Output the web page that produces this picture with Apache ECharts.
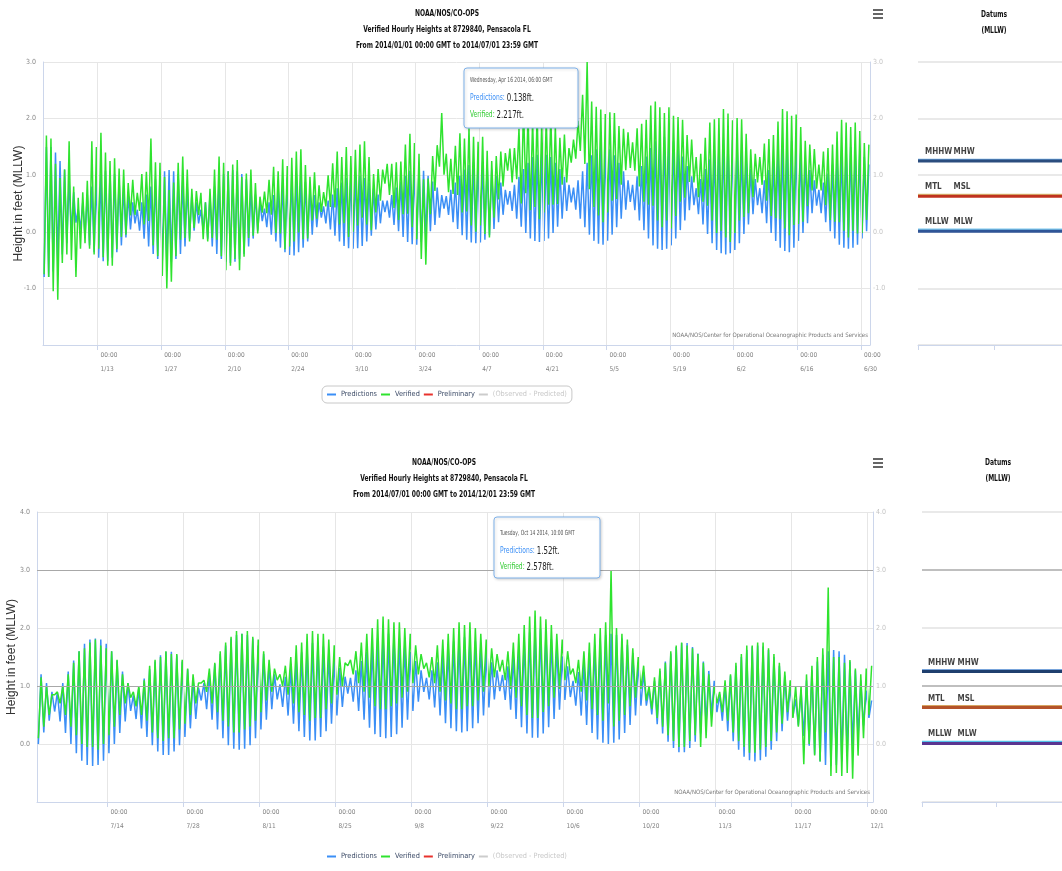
<!DOCTYPE html>
<html><head><meta charset="utf-8">
<script src="https://cdn.jsdelivr.net/npm/echarts@6/dist/echarts.min.js"></script>
<style>html,body{margin:0;padding:0;background:#fff}#c{width:1062px;height:871px}</style>
</head><body><div id="c"></div>
<script>
// ---------------- DATA ----------------
const topTickDates = ['2014-01-13','2014-01-27','2014-02-10','2014-02-24','2014-03-10','2014-03-24','2014-04-07','2014-04-21','2014-05-05','2014-05-19','2014-06-02','2014-06-16','2014-06-30'];
const botTickDates = ['2014-07-14','2014-07-28','2014-08-11','2014-08-25','2014-09-08','2014-09-22','2014-10-06','2014-10-20','2014-11-03','2014-11-17','2014-12-01'];

// daily high / low water (ft, MLLW), Jan 1 .. Jul 1 2014
const topPredHigh = [1.5,1.5,1.4,1.25,1.1,0.9,0.7,
0.4,0.52,0.66,0.8,0.92,1.02,1.08,1.08,1.02,0.92,0.8,0.66,0.52,
0.39,0.52,0.66,0.8,0.93,1.02,1.07,1.09,1.07,1.02,0.93,0.8,0.66,0.52,
0.39,0.52,0.66,0.8,0.93,1.02,1.07,1.09,1.07,1.02,0.93,0.8,0.66,0.52,
0.41,0.52,0.65,0.77,0.88,0.96,1.01,1.02,0.96,0.88,0.77,0.65,0.52,
0.45,0.55,0.66,0.77,0.87,0.95,0.99,1.0,0.99,0.95,0.87,0.77,0.66,0.55,
0.55,0.65,0.78,0.89,0.99,1.08,1.12,1.13,1.08,0.99,0.89,0.78,0.65,
0.63,0.74,0.87,0.99,1.1,1.18,1.23,1.24,1.23,1.18,1.1,0.99,0.87,0.74,
0.72,0.83,0.97,1.11,1.22,1.32,1.36,1.38,1.36,1.32,1.22,1.11,0.97,0.83,
0.78,0.91,1.07,1.22,1.35,1.46,1.51,1.53,1.46,1.35,1.22,1.07,0.91,
0.83,0.98,1.16,1.33,1.48,1.6,1.66,1.68,1.66,1.6,1.48,1.33,1.16,0.98,
0.77,0.93,1.11,1.28,1.44,1.56,1.62,1.64,1.62,1.56,1.44,1.28,1.11,0.93,
0.77,0.91,1.09,1.26,1.4,1.52,1.58,1.6,1.52,1.4,1.26,1.09,0.91,
0.74,0.87,1.03,1.19,1.32,1.43,1.48,1.5,1.48,1.43,1.32,1.19];
const topPredLow = [-0.8,-0.8,-0.7,-0.55,-0.4,-0.2,0.0,
0.16,0.04,-0.1,-0.24,-0.36,-0.46,-0.52,-0.52,-0.46,-0.36,-0.24,-0.1,0.04,
0.15,0.02,-0.12,-0.26,-0.39,-0.48,-0.53,-0.55,-0.53,-0.48,-0.39,-0.26,-0.12,0.02,
0.15,0.02,-0.12,-0.26,-0.39,-0.48,-0.53,-0.55,-0.53,-0.48,-0.39,-0.26,-0.12,0.02,
0.19,0.08,-0.05,-0.17,-0.28,-0.36,-0.41,-0.42,-0.36,-0.28,-0.17,-0.05,0.08,
0.25,0.15,0.04,-0.07,-0.17,-0.25,-0.29,-0.3,-0.29,-0.25,-0.17,-0.07,0.04,0.15,
0.35,0.25,0.12,0.01,-0.09,-0.18,-0.22,-0.23,-0.18,-0.09,0.01,0.12,0.25,
0.41,0.3,0.17,0.05,-0.06,-0.14,-0.19,-0.2,-0.19,-0.14,-0.06,0.05,0.17,0.3,
0.48,0.37,0.23,0.09,-0.02,-0.12,-0.16,-0.18,-0.16,-0.12,-0.02,0.09,0.23,0.37,
0.52,0.39,0.23,0.08,-0.05,-0.16,-0.21,-0.23,-0.16,-0.05,0.08,0.23,0.39,
0.53,0.38,0.2,0.03,-0.12,-0.24,-0.3,-0.32,-0.3,-0.24,-0.12,0.03,0.2,0.38,
0.47,0.31,0.13,-0.04,-0.2,-0.32,-0.38,-0.4,-0.38,-0.32,-0.2,-0.04,0.13,0.31,
0.47,0.33,0.15,-0.02,-0.16,-0.28,-0.34,-0.36,-0.28,-0.16,-0.02,0.15,0.33,
0.46,0.33,0.17,0.01,-0.12,-0.23,-0.28,-0.3,-0.28,-0.23,-0.12,0.01];
const topVerHigh = [1.7,1.65,1.2,0.95,1.1,1.6,0.8,
0.6,0.7,0.9,1.6,1.5,1.75,1.4,1.25,1.3,1.12,1.1,0.86,0.92,
0.69,1.02,1.06,1.65,1.23,1.22,0.97,0.74,0.87,1.22,1.33,1.1,0.76,0.72,
0.69,0.52,0.76,1.1,1.33,1.22,1.07,1.19,1.27,0.97,1.03,1.1,0.86,0.62,
0.71,0.92,1.15,1.07,1.28,1.16,1.31,1.42,1.46,1.18,0.97,1.05,0.82,
0.7,1.0,1.21,1.42,1.32,1.5,1.34,1.45,1.54,1.6,1.32,1.02,1.11,1.1,
1.2,1.2,1.23,1.24,1.54,1.73,1.57,1.38,0.93,0.94,1.34,1.53,2.1,
1.38,1.29,1.52,1.74,1.65,1.83,1.68,1.59,1.68,1.43,1.25,1.34,1.42,1.39,
1.47,1.48,1.82,2.2,2.07,1.97,2.11,1.93,2.01,2.07,1.87,1.66,1.72,1.48,
1.63,1.96,2.42,3.0,2.3,2.21,2.16,2.08,2.11,2.1,1.87,1.82,1.76,
1.58,1.83,1.91,1.98,2.23,2.3,2.2,2.1,2.2,2.05,2.03,1.98,1.71,1.63,
1.32,1.38,1.66,1.93,1.99,2.01,2.17,2.09,1.97,2.01,1.99,1.73,1.46,1.38,
1.32,1.56,1.64,1.71,1.95,2.17,2.13,2.05,2.07,1.85,1.61,1.54,1.46,
1.19,1.42,1.48,1.54,1.77,1.98,1.93,1.85,1.93,1.78,1.57,1.54];
const topVerLow = [-0.75,-0.8,-1.05,-1.2,-0.55,-0.4,-0.5,
-0.8,-0.3,-0.2,-0.3,-0.4,-0.3,-0.45,-0.6,-0.6,-0.31,-0.09,-0.05,0.29,
0.3,0.37,0.13,0.19,-0.24,-0.43,-0.78,-1.0,-0.88,-0.43,-0.14,-0.11,-0.17,0.07,
0.3,-0.13,-0.17,-0.11,-0.14,-0.43,-0.68,-0.6,-0.48,-0.68,-0.44,-0.11,-0.07,-0.03,
0.34,0.33,0.3,-0.02,-0.03,-0.31,-0.26,-0.17,-0.01,-0.13,-0.12,0.2,0.23,
0.35,0.45,0.44,0.43,0.13,0.15,-0.09,0.0,0.11,0.25,0.13,0.03,0.34,0.55,
0.85,0.65,0.42,0.21,0.31,0.32,0.08,-0.13,-0.48,-0.58,0.31,0.72,1.15,
1.01,0.7,0.67,0.65,0.34,0.36,0.11,0.0,0.11,-0.04,-0.1,0.25,0.57,0.8,
1.08,0.87,0.93,0.5,0.68,0.38,0.44,0.22,0.34,0.48,0.48,0.49,0.83,0.87,
1.22,1.29,1.43,1.2,0.75,0.44,0.29,0.17,0.34,0.55,0.58,0.83,1.09,
1.13,1.08,0.8,0.53,0.48,0.46,0.2,0.08,0.2,0.06,0.28,0.53,0.6,0.88,
0.87,0.61,0.53,0.46,0.2,-0.02,0.02,-0.1,-0.18,-0.02,0.2,0.26,0.33,0.61,
0.87,0.83,0.55,0.28,0.24,0.22,0.06,-0.06,0.12,0.14,0.18,0.45,0.73,
0.76,0.73,0.47,0.21,0.18,0.17,0.02,-0.1,0.02,-0.03,-0.02,0.21];

// daily high / low water (ft, MLLW), Jul 1 .. Dec 1 2014
const botPredHigh = [1.2,1.05,0.9,
0.89,1.05,1.25,1.44,1.6,1.73,1.8,1.82,1.8,1.73,1.6,1.44,1.25,1.05,
0.84,0.97,1.13,1.29,1.42,1.53,1.59,1.59,1.53,1.42,1.29,1.13,0.97,
1.05,1.2,1.38,1.55,1.7,1.82,1.88,1.9,1.88,1.82,1.7,1.55,1.38,1.2,
1.03,1.16,1.31,1.45,1.58,1.68,1.74,1.74,1.68,1.58,1.45,1.31,1.16,
1.14,1.27,1.43,1.59,1.72,1.83,1.88,1.9,1.88,1.83,1.72,1.59,1.43,1.27,
1.14,1.27,1.41,1.55,1.68,1.77,1.82,1.84,1.82,1.77,1.68,1.55,1.41,1.27,
1.19,1.34,1.51,1.67,1.81,1.92,1.99,1.99,1.92,1.81,1.67,1.51,1.34,
1.09,1.24,1.41,1.57,1.71,1.82,1.88,1.9,1.88,1.82,1.71,1.57,1.41,1.24,
0.94,1.09,1.26,1.42,1.56,1.67,1.74,1.74,1.67,1.56,1.42,1.26,1.09,
0.85,1.0,1.18,1.35,1.5,1.62,1.68,1.7,1.68,1.62,1.5,1.35,1.18,1.0,
0.77,0.92,1.1,1.27,1.42,1.54,1.6,1.62,1.6,1.54,1.42,1.27,1.1,0.92,
0.75];
const botPredLow = [0.0,0.2,0.4,
0.56,0.39,0.19,0.0,-0.16,-0.29,-0.36,-0.38,-0.36,-0.29,-0.16,0.0,0.19,0.39,
0.57,0.43,0.27,0.12,-0.02,-0.13,-0.19,-0.19,-0.13,-0.02,0.12,0.27,0.43,
0.75,0.6,0.42,0.25,0.1,-0.02,-0.08,-0.1,-0.08,-0.02,0.1,0.25,0.42,0.6,
0.77,0.64,0.49,0.35,0.22,0.12,0.06,0.06,0.12,0.22,0.35,0.49,0.64,
0.87,0.73,0.57,0.42,0.28,0.17,0.12,0.1,0.12,0.17,0.28,0.42,0.57,0.73,
0.9,0.77,0.63,0.49,0.36,0.27,0.22,0.2,0.22,0.27,0.36,0.49,0.63,0.77,
0.91,0.76,0.59,0.43,0.29,0.18,0.11,0.11,0.18,0.29,0.43,0.59,0.76,
0.81,0.66,0.49,0.33,0.19,0.08,0.02,0.0,0.02,0.08,0.19,0.33,0.49,0.66,
0.66,0.51,0.34,0.18,0.04,-0.07,-0.14,-0.14,-0.07,0.04,0.18,0.34,0.51,
0.55,0.4,0.22,0.05,-0.1,-0.22,-0.28,-0.3,-0.28,-0.22,-0.1,0.05,0.22,0.4,
0.47,0.32,0.14,-0.03,-0.18,-0.3,-0.36,-0.38,-0.36,-0.3,-0.18,-0.03,0.14,0.32,
0.45];
const botVerHigh = [1.15,1.0,0.85,
0.9,1.0,1.2,1.4,1.6,1.65,1.75,1.8,1.7,1.65,1.6,1.45,1.2,1.05,
0.9,1.0,1.1,1.35,1.45,1.5,1.6,1.55,1.55,1.45,1.3,1.2,1.05,
1.1,1.3,1.4,1.6,1.75,1.85,1.95,1.9,1.95,1.85,1.8,1.6,1.45,1.3,
1.2,1.35,1.5,1.7,1.75,1.9,1.95,1.9,1.9,1.8,1.7,1.5,1.4,
1.45,1.6,1.75,1.9,2.0,2.15,2.2,2.15,2.1,2.1,2.0,1.9,1.7,1.55,
1.4,1.5,1.7,1.8,1.9,2.0,2.1,2.05,2.1,2.0,1.9,1.8,1.65,1.55,
1.45,1.6,1.75,1.9,2.05,2.2,2.3,2.2,2.15,2.05,1.9,1.8,1.6,
1.3,1.45,1.6,1.75,1.9,2.0,2.1,3.0,2.0,1.9,1.8,1.65,1.5,1.35,
1.0,1.15,1.3,1.4,1.6,1.7,1.75,1.7,1.65,1.55,1.4,1.2,1.0,
0.9,1.1,1.2,1.4,1.55,1.7,1.7,1.75,1.75,1.65,1.55,1.4,1.25,1.1,
1.0,1.0,1.2,1.35,1.5,1.65,2.7,1.5,1.5,1.4,1.45,1.3,1.2,1.3,
1.35];
const botVerLow = [0.1,0.3,0.5,
0.85,0.7,0.5,0.3,0.15,0.0,-0.05,-0.05,-0.1,0.0,0.15,0.3,0.5,0.7,
0.8,0.65,0.5,0.4,0.2,0.1,0.05,0.1,0.1,0.25,0.35,0.5,0.7,
1.05,0.9,0.7,0.55,0.4,0.3,0.2,0.2,0.25,0.3,0.4,0.55,0.75,0.9,
1.1,1.0,0.85,0.7,0.55,0.5,0.4,0.45,0.45,0.6,0.7,0.85,1.0,
1.35,1.2,1.05,0.9,0.8,0.65,0.6,0.6,0.65,0.7,0.8,0.9,1.05,1.2,
1.3,1.15,1.05,0.9,0.75,0.7,0.6,0.6,0.65,0.65,0.75,0.9,1.0,1.15,
1.25,1.1,0.95,0.8,0.65,0.5,0.45,0.45,0.55,0.65,0.8,0.95,1.1,
1.2,1.05,0.9,0.75,0.6,0.5,0.4,0.7,0.3,0.4,0.5,0.65,0.8,0.95,
0.75,0.6,0.45,0.3,0.15,0.05,-0.05,-0.05,0.05,0.15,-0.05,0.1,0.3,
0.7,0.55,0.4,0.2,0.05,-0.05,-0.15,-0.15,-0.1,-0.05,0.05,0.2,0.35,0.55,
0.45,0.3,-0.35,0.0,-0.2,-0.3,0.2,-0.55,-0.5,-0.55,-0.5,-0.6,-0.2,0.1,
0.5];

const datumNames = ['MHHW','MHW','MTL','MSL','MLLW','MLW'];
const datumValues = [1.25, 1.265, 0.63, 0.645, 0.01, 0.03];

const topTip = {date:'Wednesday, Apr 16 2014, 06:00 GMT', pred:'0.138ft.', ver:'2.217ft.'};
const botTip = {date:'Tuesday, Oct 14 2014, 10:00 GMT', pred:'1.52ft.', ver:'2.578ft.'};

const titleLine1 = 'NOAA/NOS/CO-OPS';
const titleLine2 = 'Verified Hourly Heights at 8729840, Pensacola FL';
const topTitleLine3 = 'From 2014/01/01 00:00 GMT to 2014/07/01 23:59 GMT';
const botTitleLine3 = 'From 2014/07/01 00:00 GMT to 2014/12/01 23:59 GMT';
const creditText = 'NOAA/NOS/Center for Operational Oceanographic Products and Services';
const legendNames = ['Predictions','Verified','Preliminary','(Observed - Predicted)'];

// ---------------- BUILD ----------------
const NARROW = "'Liberation Sans Narrow','DejaVu Sans Condensed','Arial Narrow',sans-serif";
const DAY = 86400000, HOUR = 3600000;
const toUTC = s => { const p = s.split('-').map(Number); return Date.UTC(p[0], p[1]-1, p[2]); };
const topStart = Date.UTC(2014,0,1), topEnd = Date.UTC(2014,6,1,23,59);
const botStart = Date.UTC(2014,6,1), botEnd = Date.UTC(2014,11,1,23,59);
const topTicks = topTickDates.map(toUTC), botTicks = botTickDates.map(toUTC);

function build(start, highs, lows) {
  const out = [];
  for (let i = 0; i < highs.length; i++) {
    const t0 = start + i * DAY;
    out.push([t0 + 6 * HOUR, lows[i]]);
    out.push([t0 + 18 * HOUR, highs[i]]);
  }
  return out;
}
const fmtTick = v => { const d = new Date(v); return '00:00\n' + (d.getUTCMonth()+1) + '/' + d.getUTCDate(); };

const BLUE = '#3b8ff6', GREEN = '#2fe32f', RED = '#e8322d', GRAY = '#cccccc';
const AXC = '#ccd6eb';

function mainX(gi, mn, mx, ticks) {
  return {gridIndex: gi, type: 'value', min: mn, max: mx,
    axisLine: {show: true, onZero: false, lineStyle: {color: AXC}},
    axisTick: {show: true, customValues: ticks, length: 5, lineStyle: {color: AXC}},
    axisLabel: {customValues: ticks, formatter: fmtTick, color: '#808080', fontSize: 6.5, fontFamily: NARROW,
      lineHeight: 14, margin: 3, align: 'left', padding: [0,0,0,3]},
    splitLine: {show: false}};
}
function mainY(gi, mn, mx, nameGap) {
  return {gridIndex: gi, type: 'value', min: mn, max: mx, interval: 1, position: 'left',
    name: 'Height in feet (MLLW)', nameLocation: 'middle', nameGap: nameGap, nameMoveOverlap: false,
    nameTextStyle: {fontSize: 12, color: '#333', fontFamily: "'Liberation Sans',Arial,sans-serif"},
    axisLine: {show: true, onZero: false, lineStyle: {color: AXC}}, axisTick: {show: false},
    axisLabel: {showMinLabel: false, formatter: v => v.toFixed(1), color: '#888', fontSize: 7, fontFamily: NARROW, margin: 7},
    splitLine: {show: true, lineStyle: {color: '#e6e6e6'}}};
}
function rightY(gi, mn, mx) {
  return {gridIndex: gi, type: 'value', min: mn, max: mx, interval: 1, position: 'right',
    axisLine: {show: true, onZero: false, lineStyle: {color: AXC}}, axisTick: {show: false},
    axisLabel: {showMinLabel: false, formatter: v => v.toFixed(1), color: '#c4c4c4', fontSize: 7, fontFamily: NARROW, margin: 3},
    splitLine: {show: false}};
}
function datumX(gi) {
  return {gridIndex: gi, type: 'value', min: 0, max: 2, interval: 1,
    axisLine: {show: true, onZero: false, lineStyle: {color: AXC}},
    axisTick: {show: true, length: 5, lineStyle: {color: AXC}},
    axisLabel: {show: false}, splitLine: {show: false}};
}
function datumY(gi, mn, mx) {
  return {gridIndex: gi, type: 'value', min: mn, max: mx, interval: 1,
    axisLine: {show: false, onZero: false}, axisTick: {show: false}, axisLabel: {show: false},
    splitLine: {show: true, lineStyle: {color: '#e2e2e2', width: 1.5}}};
}

function mainSeries(xi, yi, start, ph, pl, vh, vl, ticks, darkLines) {
  const ml = ticks.map(t => ({xAxis: t}));
  darkLines.forEach(v => ml.push({yAxis: v, lineStyle: {color: '#a8a8a8', width: 1}}));
  return [
    {type: 'line', name: '_grid', xAxisIndex: xi, yAxisIndex: yi, data: [], z: 1, silent: true,
      markLine: {silent: true, symbol: ['none','none'], label: {show: false},
        lineStyle: {color: '#e6e6e6', type: 'solid', width: 1}, data: ml, animation: false}},
    {type: 'line', name: 'Predictions', xAxisIndex: xi, yAxisIndex: yi, data: build(start, ph, pl),
      symbol: 'none', lineStyle: {color: BLUE, width: 1.5}, itemStyle: {color: BLUE}, z: 3, silent: true},
    {type: 'line', name: 'Verified', xAxisIndex: xi, yAxisIndex: yi, data: build(start, vh, vl),
      symbol: 'none', lineStyle: {color: GREEN, width: 1.5}, itemStyle: {color: GREEN}, z: 4, silent: true},
    {type: 'line', name: 'Preliminary', xAxisIndex: xi, yAxisIndex: yi, data: [], symbol: 'none',
      lineStyle: {color: RED}, itemStyle: {color: RED}},
    {type: 'line', name: '(Observed - Predicted)', xAxisIndex: xi, yAxisIndex: yi, data: [], symbol: 'none',
      lineStyle: {color: GRAY}, itemStyle: {color: GRAY}}
  ];
}

function datumSeries(xi, yi, colors, darkLines, labOff) {
  const out = [];
  if (darkLines.length) {
    out.push({type: 'line', name: '_dgrid', xAxisIndex: xi, yAxisIndex: yi, data: [], z: 1, silent: true,
      markLine: {silent: true, symbol: ['none','none'], label: {show: false},
        lineStyle: {color: '#b0b0b0', type: 'solid', width: 1.5}, data: darkLines.map(v => ({yAxis: v})), animation: false}});
  }
  const order = [1, 0, 3, 2, 5, 4];
  order.forEach(i => {
    out.push({type: 'line', name: datumNames[i], xAxisIndex: xi, yAxisIndex: yi,
      data: [[0, datumValues[i]], [2, datumValues[i]]], symbol: 'none', silent: true,
      lineStyle: {color: colors[i], width: 3}, z: 5 + (i % 2 === 0 ? 1 : 0)});
  });
  const lab = [];
  datumNames.forEach((n, i) => {
    lab.push({value: [0, datumValues[i]], label: {show: true, formatter: n, position: 'right', distance: 0,
      offset: [i % 2 === 0 ? labOff[0] : labOff[1], i % 2 === 0 ? -9 : -8],
      fontSize: 8, fontWeight: 'bold', fontFamily: NARROW, color: '#111'}});
  });
  out.push({type: 'scatter', name: '_dlabels', xAxisIndex: xi, yAxisIndex: yi, data: lab, symbolSize: 1,
    itemStyle: {color: 'rgba(0,0,0,0)'}, silent: true, z: 10, clip: false});
  return out;
}

const mctx = document.createElement('canvas').getContext('2d');
function tw(text, font) { mctx.font = font; return mctx.measureText(text).width; }

function tipGraphic(x, y, w, h, offs, tip) {
  const S = 0.74;
  const f1 = `7px ${NARROW}`, fl = `9px ${NARROW}`, fv = `10.5px ${NARROW}`;
  const tx = x + 6;
  const txt = (xx, yy, t, f, c, s) => ({type: 'text', z: 101, x: xx, y: yy, scaleX: s,
    style: {text: t, font: f, fill: c, textVerticalAlign: 'middle'}});
  return [
    {type: 'rect', z: 100, shape: {x: x, y: y, width: w, height: h, r: 3},
      style: {fill: '#ffffff', stroke: '#7fb2ea', lineWidth: 1, shadowBlur: 3, shadowColor: 'rgba(0,0,0,0.18)', shadowOffsetX: 1, shadowOffsetY: 1}},
    txt(tx, y + offs[0], tip.date, f1, '#555', 0.7),
    txt(tx, y + offs[1], 'Predictions:', fl, BLUE, S),
    txt(tx + tw('Predictions: ', fl) * S, y + offs[1], tip.pred, fv, '#222', S),
    txt(tx, y + offs[2], 'Verified:', fl, '#33cc33', S),
    txt(tx + tw('Verified: ', fl) * S, y + offs[2], tip.ver, fv, '#222', S)
  ];
}
function titleGraphic(cx, ys, lines) {
  return lines.map((t, i) => ({type: 'text', x: cx, y: ys[i], z: 50, scaleX: 0.74,
    style: {text: t, font: `bold 9px ${NARROW}`, fill: '#111', textAlign: 'center', textVerticalAlign: 'middle'}}));
}
function burger(x, y) {
  return [0, 4, 8].map(d => ({type: 'rect', z: 50, shape: {x: x, y: y + d, width: 10, height: 2}, style: {fill: '#666'}}));
}
function credit(x, y) {
  return {type: 'text', x: x, y: y, z: 50, style: {text: creditText, font: `6px ${NARROW}`, fill: '#777', textAlign: 'right', textVerticalAlign: 'middle'}};
}

function legendCfg(top, border) {
  return {top: top, left: 322, orient: 'horizontal', icon: 'rect', itemWidth: 9, itemHeight: 2, itemGap: 4,
    padding: [5, 5, 5, 5], borderColor: border ? '#c8c8c8' : 'transparent', borderWidth: border ? 1 : 0, borderRadius: 5,
    textStyle: {fontSize: 7.3, fontFamily: NARROW, color: '#3b4a66'},
    selectedMode: false,
    data: legendNames.map((n, i) => i === 3 ? {name: n, textStyle: {color: '#c8c8c8'}} : {name: n})};
}

const topColors = ['#2b4d7e', '#6aa6e0', '#c0321e', '#d9c77a', '#2f5597', '#7cc8ee'];
const botColors = ['#1f3f6e', '#4b86cf', '#b4532a', '#d6a561', '#5a3591', '#54c2ea'];

const gridBase = {containLabel: false, outerBoundsMode: 'none'};
const option = {
  animation: false,
  backgroundColor: '#ffffff',
  grid: [
    Object.assign({left: 43, right: 192, top: 62, height: 283}, gridBase),
    Object.assign({left: 918, right: -8, top: 62, height: 283}, gridBase),
    Object.assign({left: 37, right: 189, top: 512, height: 290}, gridBase),
    Object.assign({left: 922, right: -8, top: 512, height: 290}, gridBase)
  ],
  xAxis: [mainX(0, topStart, topEnd, topTicks), datumX(1), mainX(2, botStart, botEnd, botTicks), datumX(3)],
  yAxis: [mainY(0, -2, 3, 18), rightY(0, -2, 3), datumY(1, -2, 3), mainY(2, -1, 4, 19), rightY(2, -1, 4), datumY(3, -1, 4)],
  legend: [legendCfg(386, true), legendCfg(848, false)],
  series: [].concat(
    mainSeries(0, 0, topStart, topPredHigh, topPredLow, topVerHigh, topVerLow, topTicks, []),
    datumSeries(1, 2, topColors, [], [6.5, 35]),
    mainSeries(2, 3, botStart, botPredHigh, botPredLow, botVerHigh, botVerLow, botTicks, [3, 1]),
    datumSeries(3, 5, botColors, [3, 1], [5.5, 35])
  ),
  graphic: [].concat(
    titleGraphic(447, [14, 30, 46], [titleLine1, titleLine2, topTitleLine3]),
    titleGraphic(444, [463, 479, 495], [titleLine1, titleLine2, botTitleLine3]),
    titleGraphic(994, [15, 31], ['Datums', '(MLLW)']),
    titleGraphic(998, [463, 479], ['Datums', '(MLLW)']),
    burger(873, 9), burger(873, 458),
    [credit(868, 335), credit(870, 792)],
    tipGraphic(464, 68, 114, 60, [12, 30, 47], topTip),
    tipGraphic(494, 517, 106, 61, [16, 34, 50], botTip)
  )
};

const chart = echarts.init(document.getElementById('c'), null, {renderer: 'canvas'});
chart.setOption(option);
</script>
</body></html>
